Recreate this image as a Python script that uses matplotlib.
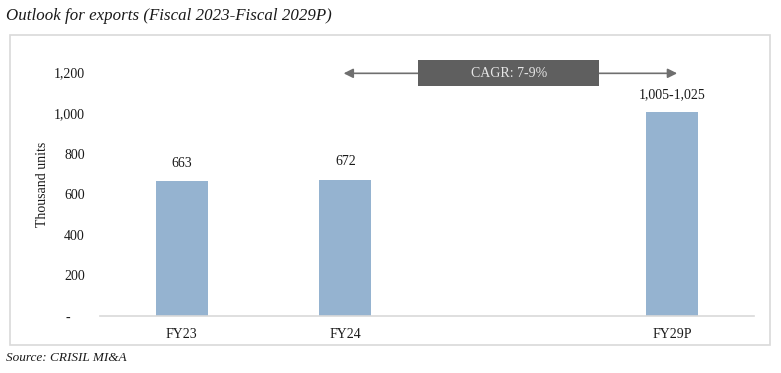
import matplotlib.pyplot as plt
from matplotlib.patches import Rectangle
import numpy as np

# data
categories = ["FY23", "FY24", "", "FY29P"]
values = [663, 672, np.nan, 1005]
value_labels = ["663", "672", "", "1,005-1,025"]
yticks = [0, 200, 400, 600, 800, 1000, 1200]
ytick_labels = ["-    ", "200", "400", "600", "800", "1,000", "1,200"]
cagr_text = "CAGR: 7-9%"

plt.rcParams['font.family'] = ['Liberation Serif', 'DejaVu Serif']

fig = plt.figure(figsize=(7.81, 3.73), dpi=100)
ax = fig.add_axes([100 / 781, 57 / 373, 654 / 781, 264 / 373])

# outer frame
fig.patches.append(Rectangle((10 / 781, 28 / 373), 760 / 781, 310 / 373,
                             transform=fig.transFigure, fill=False,
                             edgecolor='#d9d9d9', linewidth=1.2))

x = np.arange(len(categories))
ax.bar(x, values, width=0.32, color='#95b3d0')

for xi, v, lab in zip(x, values, value_labels):
    if lab:
        ax.text(xi, v + 55, lab, ha='center', va='bottom', fontsize=10, color='#1a1a1a')

ax.set_xlim(-0.5, len(categories) - 0.5)
ax.set_ylim(0, 1300)
ax.set_xticks(x)
ax.set_xticklabels(categories, fontsize=10, color='#1a1a1a')
ax.set_yticks(yticks)
ax.set_yticklabels(ytick_labels, fontsize=10, color='#1a1a1a')
ax.tick_params(axis='both', length=0)
ax.tick_params(axis='y', pad=11)
ax.tick_params(axis='x', pad=9)
for s in ['top', 'right', 'left']:
    ax.spines[s].set_visible(False)
ax.spines['bottom'].set_color('#d9d9d9')
ax.spines['bottom'].set_linewidth(1.2)

ax.set_ylabel("Thousand units", fontsize=10, color='#1a1a1a', labelpad=3)

# CAGR arrow and box
ax.annotate('', xy=(0.99, 1195), xytext=(3.03, 1195),
            arrowprops=dict(arrowstyle='<|-|>', color='#6f6f6f', lw=1.2,
                            mutation_scale=14, shrinkA=0, shrinkB=0))
ax.add_patch(Rectangle((2.0 - 0.555, 1195 - 64), 1.11, 128,
                       facecolor='#5f5f5f', edgecolor='none', zorder=3))
ax.text(2.0, 1195, cagr_text, ha='center', va='center', fontsize=10,
        color='#e6e6e6', zorder=4)

fig.text(6 / 781, 1 - 16 / 373, "Outlook for exports (Fiscal 2023-Fiscal 2029P)",
         fontsize=12.2, style='italic', va='center', ha='left', color='#1a1a1a')
fig.text(6 / 781, 1 - 358 / 373, "Source: CRISIL MI&A",
         fontsize=9.5, style='italic', va='center', ha='left', color='#1a1a1a')

fig.savefig("out.png", dpi=100)
